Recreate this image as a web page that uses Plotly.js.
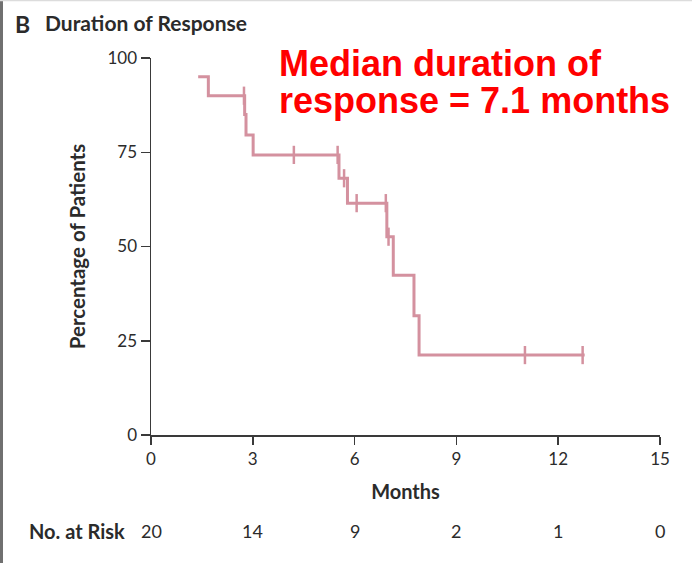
<!DOCTYPE html>
<html>
<head>
<meta charset="utf-8">
<script src="https://cdn.plot.ly/plotly-3.0.1.min.js"></script>
<style>
  html, body { margin: 0; padding: 0; background: #fff; }
  #chart { width: 692px; height: 563px; }
</style>
</head>
<body>
<div id="chart"></div>
<script>
// Kaplan-Meier step curve (months, % of patients)
const curveMonths = [1.39, 1.69, 2.76, 2.80, 3.01, 5.54, 5.79, 6.95, 7.14, 7.75, 7.90, 12.78];
const curvePct    = [95,   90,   85,   79.6, 74.3, 68.1, 61.5, 52.6, 42.4, 31.6, 21.2, 21.2];
// Censored observations
const censorMonths = [2.74, 4.21, 5.50, 5.69, 6.06, 6.92, 7.00, 11.02, 12.72];
const censorPct    = [90,   74.3, 74.3, 68.1, 61.5, 61.5, 52.6, 21.2,  21.2];
// Axis ticks
const xTicks = [0, 3, 6, 9, 12, 15];
const yTicks = [0, 25, 50, 75, 100];
// Numbers at risk
const riskMonths = [0, 3, 6, 9, 12, 15];
const riskCounts = [20, 14, 9, 2, 1, 0];

const W = 692, H = 563;
const M = {l: 151, r: 32, t: 58, b: 128};
const PW = W - M.l - M.r, PH = H - M.t - M.b;
const px = x => (x - M.l) / PW;        // pixel -> paper x
const py = y => (M.t + PH - y) / PH;   // pixel -> paper y

const curveColor = '#d4919f';
const axisColor = '#3a3a3a';
const textColor = '#2b2b2b';

const traces = [
  {
    x: curveMonths, y: curvePct, type: 'scatter', mode: 'lines',
    line: {shape: 'hv', color: curveColor, width: 3},
    hoverinfo: 'skip', showlegend: false
  },
  {
    x: censorMonths, y: censorPct, type: 'scatter', mode: 'markers',
    marker: {symbol: 'line-ns-open', size: 13, color: curveColor, line: {color: curveColor, width: 2.5}},
    hoverinfo: 'skip', showlegend: false, cliponaxis: false
  }
];

const annotations = [
  {text: '<b>B</b>', xref: 'paper', yref: 'paper', x: px(13), y: py(24), xanchor: 'left', yanchor: 'middle',
   showarrow: false, font: {family: 'Lato', size: 23, color: textColor}},
  {text: '<b>Median duration of</b>', xref: 'paper', yref: 'paper', x: px(277), y: py(64), xanchor: 'left', yanchor: 'middle',
   showarrow: false, font: {family: 'Liberation Sans, Arial', size: 36, color: '#ff0000'}},
  {text: '<b>response = 7.1 months</b>', xref: 'paper', yref: 'paper', x: px(277), y: py(101), xanchor: 'left', yanchor: 'middle',
   showarrow: false, font: {family: 'Liberation Sans, Arial', size: 36, color: '#ff0000'}},
  {text: '<b>No. at Risk</b>', xref: 'paper', yref: 'paper', x: px(127), y: py(531), xanchor: 'right', yanchor: 'middle',
   showarrow: false, font: {family: 'Lato', size: 20, color: textColor}}
];
riskMonths.forEach((m, i) => {
  annotations.push({text: String(riskCounts[i]), xref: 'x', yref: 'paper', x: m, y: py(531),
    xanchor: 'center', yanchor: 'middle', showarrow: false,
    font: {family: 'Lato', size: 18, color: textColor}});
});

const layout = {
  width: W, height: H,
  margin: M,
  paper_bgcolor: '#fff', plot_bgcolor: '#fff',
  font: {family: 'Lato', color: textColor},
  title: {
    text: '<b>Duration of Response</b>',
    xref: 'container', yref: 'container', x: 45 / W, y: 1 - 24 / H,
    xanchor: 'left', yanchor: 'middle',
    font: {family: 'Lato', size: 21, color: textColor}
  },
  xaxis: {
    range: [0, 15], tickvals: xTicks, ticktext: xTicks.map(String),
    ticks: 'outside', ticklen: 8, tickwidth: 1.5, tickcolor: axisColor,
    showline: true, linecolor: axisColor, linewidth: 1.5,
    showgrid: false, zeroline: false, fixedrange: true,
    tickfont: {family: 'Lato', size: 17, color: textColor},
    title: {text: '<b>Months</b>', standoff: 17, font: {family: 'Lato', size: 20, color: textColor}}
  },
  yaxis: {
    range: [0, 100], tickvals: yTicks, ticktext: yTicks.map(String),
    ticks: 'outside', ticklen: 9, tickwidth: 1.5, tickcolor: axisColor,
    showline: true, linecolor: axisColor, linewidth: 1.5,
    showgrid: false, zeroline: false, fixedrange: true,
    tickfont: {family: 'Lato', size: 17, color: textColor},
    title: {text: '<b>Percentage of Patients</b>', standoff: 16, font: {family: 'Lato', size: 20.5, color: textColor}}
  },
  shapes: [
    {type: 'line', xref: 'paper', yref: 'paper', x0: px(1.5), x1: px(1.5), y0: py(0), y1: py(H),
     line: {color: '#707070', width: 3}},
    {type: 'line', xref: 'paper', yref: 'paper', x0: px(0), x1: px(W), y0: py(0.5), y1: py(0.5),
     line: {color: '#dcdcdc', width: 1.5}}
  ],
  annotations: annotations
};

Plotly.newPlot('chart', traces, layout, {displayModeBar: false, staticPlot: true});
</script>
</body>
</html>
